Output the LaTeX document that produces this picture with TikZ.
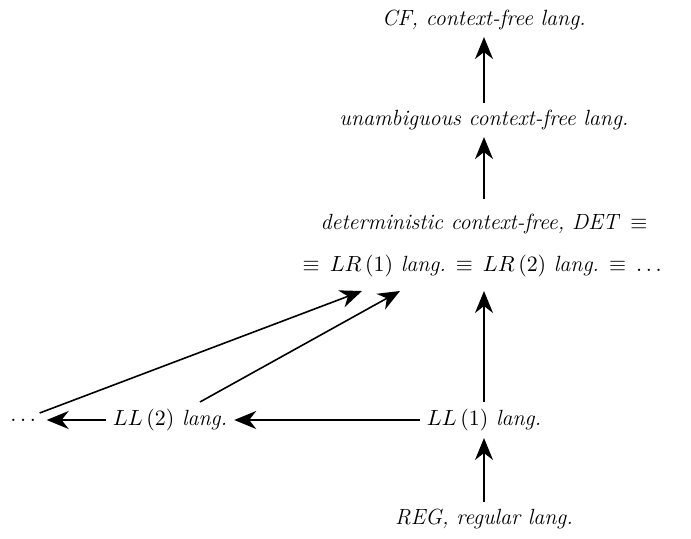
\documentclass[tikz,border=0pt]{standalone}
\usepackage{amsmath}
\usetikzlibrary{arrows.meta}

\begin{document}
\begin{tikzpicture}[x=0.5pt, y=-0.5pt,
    lang/.style={font=\fontsize{11}{13}\selectfont\itshape},
    arr/.style={-{Stealth[length=11pt, width=9pt, inset=3.5pt]}, thick}]
    \useasboundingbox (0,0) rectangle (691,539);
    % classes of languages
    \node[lang] (cf)   at (484,20)  {CF,\ context-free\ lang.};
    \node[lang] (ucf)  at (484,120) {unambiguous\ context-free\ lang.};
    \node[lang] (det)  at (484,224) {deterministic\ context-free,\ DET\hspace{6pt}$\equiv$};
    \node[lang] (lr)   at (484,266) {$\equiv$\hspace{5pt}$LR\,(1)$\ lang.\hspace{5pt}$\equiv$\hspace{5pt}$LR\,(2)$\ lang.\hspace{5pt}$\equiv$\hspace{5pt}$\dots$};
    \node[lang] (ll1)  at (484,420) {$LL\,(1)$\ lang.};
    \node[lang] (ll2)  at (170,420) {$LL\,(2)$\ lang.};
    \node[lang] (dots) at (25,420)  {$\dots$};
    \node[lang] (reg)  at (484,519) {REG,\ regular\ lang.};
    % inclusions
    \draw[arr] (ucf) -- (cf);
    \draw[arr] ([yshift=4pt]det.north) -- (ucf);
    \draw[arr] (ll1) -- ([yshift=-3.5pt]lr.south);
    \draw[arr] (reg) -- (ll1);
    \draw[arr] (ll1) -- (ll2);
    \draw[arr] (ll2) -- (dots);
    \draw[arr] ([xshift=-3.5pt, yshift=3.5pt]dots.east) -- ([xshift=-61pt, yshift=-3.5pt]lr.south);
    \draw[arr] ([xshift=15pt]ll2.north) -- ([xshift=-42pt, yshift=-3.5pt]lr.south);
\end{tikzpicture}
\end{document}
